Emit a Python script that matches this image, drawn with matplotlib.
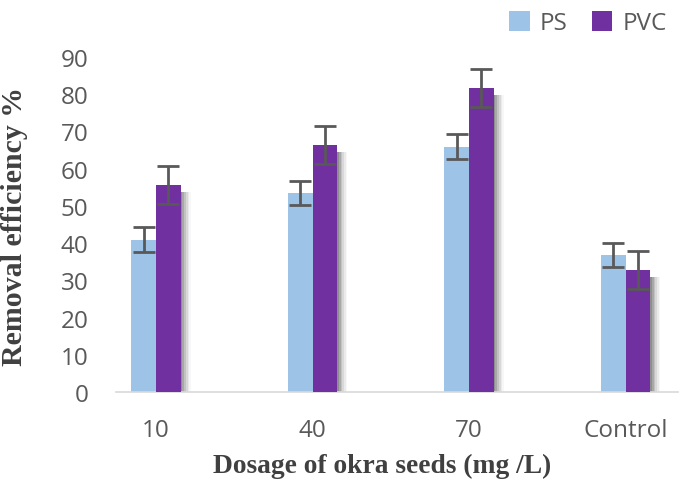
import numpy as np
import matplotlib.pyplot as plt

# data
categories = ['10', '40', '70', 'Control']
ps = [40.9, 53.5, 65.9, 36.8]
pvc = [55.6, 66.4, 81.7, 32.8]
ps_err = [3.4, 3.2, 3.4, 3.3]
pvc_err = [5.1, 5.1, 5.1, 5.1]

ps_color = '#9DC3E6'
pvc_color = '#7030A0'
err_color = '#595959'
tick_color = '#595959'

fig = plt.figure(figsize=(6.85, 4.81), dpi=100)
ax = fig.add_axes([116/685, 1-393/481, (678-116)/685, (393-58)/481])

x = np.arange(len(categories))
w = 0.157

# soft shadow to the right of the bars
for k, a in enumerate([0.16, 0.13, 0.10, 0.07, 0.05, 0.03]):
    off = 0.011 * (k + 1)
    ax.bar(x + w/2 + off, np.array(pvc) - 1.8, w, bottom=0, color='black',
           alpha=a, linewidth=0, zorder=1)

ax.bar(x - w/2, ps, w, color=ps_color, label='PS', zorder=2)
ax.bar(x + w/2, pvc, w, color=pvc_color, label='PVC', zorder=3)

ax.errorbar(x - w/2, ps, yerr=ps_err, fmt='none', ecolor=err_color,
            elinewidth=2, capsize=8, capthick=2, zorder=4)
ax.errorbar(x + w/2, pvc, yerr=pvc_err, fmt='none', ecolor=err_color,
            elinewidth=2, capsize=8, capthick=2, zorder=4)

ax.set_xlim(-0.256, 3.335)
ax.set_ylim(0, 90)
ax.set_yticks(range(0, 91, 10))
ax.set_xticks(x)
ax.set_xticklabels(categories)

for s in ['top', 'right', 'left']:
    ax.spines[s].set_visible(False)
ax.spines['bottom'].set_color('#D9D9D9')
ax.spines['bottom'].set_linewidth(1.2)
ax.tick_params(axis='both', length=0, labelcolor=tick_color, labelsize=17.5)
ax.tick_params(axis='y', pad=20)
ax.tick_params(axis='x', pad=19)
for lab in ax.get_xticklabels() + ax.get_yticklabels():
    lab.set_fontfamily('Open Sans')

fig.text(15/685, 1-226/481, 'Removal efficiency %', rotation=90, ha='center',
         va='center', fontsize=21.5, fontweight='bold', family='Liberation Serif',
         color='#404040')
fig.text(382/685, 1-466/481, 'Dosage of okra seeds (mg /L)', ha='center',
         va='center', fontsize=19.8, fontweight='bold', family='Liberation Serif',
         color='#404040')

leg = fig.legend(loc='upper right', bbox_to_anchor=(1.005, 1.02), ncol=2,
                 frameon=False, prop={'family': 'Open Sans', 'size': 17.5},
                 handlelength=0.85, handleheight=0.85, handletextpad=0.4,
                 columnspacing=1.0)
for t in leg.get_texts():
    t.set_color(tick_color)

fig.savefig('out.png', dpi=100)
